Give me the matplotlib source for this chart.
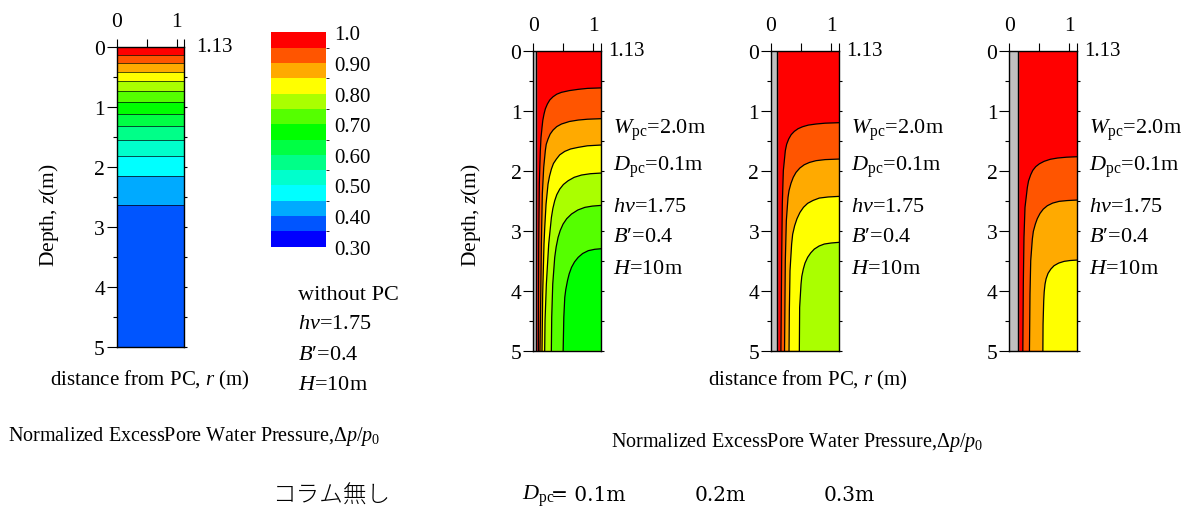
import numpy as np
import matplotlib
matplotlib.use("Agg")
import matplotlib.pyplot as plt
from matplotlib.colors import ListedColormap, BoundaryNorm
from matplotlib.cm import ScalarMappable

plt.rcParams['font.family'] = ['Liberation Serif', 'DejaVu Sans']
plt.rcParams['mathtext.fontset'] = 'custom'
plt.rcParams['mathtext.rm'] = 'Liberation Serif'
plt.rcParams['mathtext.it'] = 'Liberation Serif:italic'

# ---------------- data ----------------
R_MAX = 1.13
Z_MAX = 5.0
level_bounds = [0.30, 0.35, 0.40, 0.45, 0.50, 0.55, 0.60, 0.65, 0.70,
                0.75, 0.80, 0.85, 0.90, 0.95, 1.00]
level_colors = ['#0000FF', '#0055FF', '#00AAFF', '#00FFFF', '#00FFCC', '#00FF88',
                '#00FF44', '#00FF00', '#55FF00', '#AAFF00', '#FFFF00', '#FFAA00',
                '#FF5500', '#FF0000']
cbar_ticks = [0.30, 0.40, 0.50, 0.60, 0.70, 0.80, 0.90, 1.0]
cbar_labels = ['0.30', '0.40', '0.50', '0.60', '0.70', '0.80', '0.90', '1.0']

# case without PC: pressure profile with depth
prof_depth = [0.0, 0.138, 0.276, 0.426, 0.576, 0.742, 0.925, 1.114, 1.324,
              1.557, 1.823, 2.156, 2.638, 5.0]
prof_pressure = [1.0, 0.95, 0.90, 0.85, 0.80, 0.75, 0.70, 0.65, 0.60,
                 0.55, 0.50, 0.45, 0.40, 0.37]

# cases with PC: contour lines (r, z) of each level
pc_diameter = [0.1, 0.2, 0.3]
contour_levels = [[0.95, 0.90, 0.85, 0.80, 0.75, 0.70],
                  [0.95, 0.90, 0.85, 0.80],
                  [0.95, 0.90, 0.85]]
contour_r = [
    [[1.13, 0.90, 0.746, 0.60, 0.468, 0.390, 0.329, 0.275, 0.234, 0.200, 0.178, 0.158, 0.145, 0.128, 0.117, 0.100, 0.090, 0.084],
     [1.13, 0.90, 0.746, 0.60, 0.468, 0.390, 0.329, 0.280, 0.245, 0.215, 0.200, 0.173, 0.150, 0.134, 0.125, 0.111],
     [1.13, 0.90, 0.746, 0.62, 0.523, 0.440, 0.384, 0.335, 0.301, 0.270, 0.245, 0.212, 0.190, 0.178, 0.156, 0.145],
     [1.13, 0.95, 0.802, 0.68, 0.579, 0.500, 0.440, 0.390, 0.356, 0.325, 0.301, 0.256, 0.217, 0.195, 0.189],
     [1.13, 0.98, 0.857, 0.74, 0.635, 0.555, 0.495, 0.448, 0.412, 0.380, 0.356, 0.323, 0.306, 0.300],
     [1.13, 1.02, 0.913, 0.82, 0.746, 0.685, 0.635, 0.596, 0.568, 0.540, 0.523, 0.507, 0.496]],
    [[1.13, 0.90, 0.748, 0.62, 0.526, 0.450, 0.388, 0.335, 0.294, 0.260, 0.238, 0.205, 0.188, 0.177, 0.165],
     [1.13, 0.90, 0.748, 0.64, 0.554, 0.480, 0.416, 0.370, 0.332, 0.300, 0.283, 0.255, 0.238, 0.225],
     [1.13, 0.95, 0.803, 0.70, 0.609, 0.540, 0.482, 0.432, 0.393, 0.360, 0.343, 0.316, 0.305, 0.300],
     [1.13, 1.00, 0.886, 0.80, 0.720, 0.660, 0.609, 0.565, 0.537, 0.512, 0.499, 0.476, 0.471]],
    [[1.13, 0.95, 0.80, 0.68, 0.578, 0.500, 0.439, 0.390, 0.356, 0.320, 0.300, 0.261, 0.244, 0.233, 0.225],
     [1.13, 0.96, 0.828, 0.72, 0.633, 0.565, 0.511, 0.465, 0.433, 0.400, 0.383, 0.356, 0.344, 0.335],
     [1.13, 1.01, 0.911, 0.82, 0.744, 0.690, 0.644, 0.612, 0.594, 0.580, 0.572, 0.561, 0.558]],
]
contour_z = [
    [[0.62, 0.628, 0.644, 0.665, 0.694, 0.725, 0.767, 0.820, 0.889, 0.970, 1.056, 1.160, 1.278, 1.450, 1.667, 2.222, 3.222, 5.0],
     [1.133, 1.142, 1.156, 1.180, 1.222, 1.265, 1.322, 1.390, 1.472, 1.560, 1.667, 1.944, 2.389, 3.222, 4.0, 5.0],
     [1.572, 1.585, 1.611, 1.638, 1.678, 1.735, 1.806, 1.880, 1.972, 2.090, 2.222, 2.556, 2.950, 3.222, 4.056, 5.0],
     [2.039, 2.050, 2.072, 2.110, 2.167, 2.230, 2.306, 2.400, 2.500, 2.630, 2.778, 3.222, 3.889, 4.500, 5.0],
     [2.578, 2.590, 2.611, 2.655, 2.722, 2.800, 2.889, 2.995, 3.111, 3.270, 3.444, 3.889, 4.444, 5.0],
     [3.300, 3.310, 3.333, 3.380, 3.444, 3.520, 3.611, 3.720, 3.833, 3.980, 4.111, 4.444, 5.0]],
    [[1.200, 1.208, 1.222, 1.240, 1.267, 1.300, 1.344, 1.400, 1.472, 1.560, 1.667, 2.000, 2.556, 3.500, 5.0],
     [1.806, 1.815, 1.833, 1.862, 1.900, 1.955, 2.028, 2.110, 2.211, 2.330, 2.444, 2.833, 3.500, 5.0],
     [2.428, 2.438, 2.456, 2.495, 2.544, 2.610, 2.694, 2.800, 2.917, 3.060, 3.222, 3.667, 4.333, 5.0],
     [3.194, 3.205, 3.222, 3.255, 3.306, 3.370, 3.444, 3.540, 3.639, 3.760, 3.889, 4.278, 5.0]],
    [[1.767, 1.775, 1.789, 1.810, 1.844, 1.885, 1.933, 1.995, 2.067, 2.170, 2.278, 2.611, 3.111, 3.889, 5.0],
     [2.489, 2.498, 2.511, 2.540, 2.583, 2.640, 2.711, 2.800, 2.889, 3.010, 3.139, 3.500, 4.056, 5.0],
     [3.489, 3.497, 3.511, 3.540, 3.583, 3.640, 3.711, 3.800, 3.889, 4.020, 4.167, 4.556, 5.0]],
]

# ---------------- figure ----------------
W, H = 1192, 510
fig = plt.figure(figsize=(W / 100, H / 100), dpi=100)

cmap = ListedColormap(level_colors)
norm = BoundaryNorm(level_bounds, cmap.N)


def add_ax(x0, y0, x1, y1):
    return fig.add_axes([x0 / W, 1 - y1 / H, (x1 - x0) / W, (y1 - y0) / H])


def ftext(x, y, s, **kw):
    kw.setdefault('fontsize', 16)
    kw.setdefault('va', 'center')
    kw.setdefault('ha', 'left')
    fig.text(x / W, 1 - y / H, s, **kw)


def style_axes(ax, label_x):
    ax.set_xlim(0, R_MAX)
    ax.set_ylim(Z_MAX, 0)
    for sp in ax.spines.values():
        sp.set_linewidth(1.0)
        sp.set_zorder(10)
    ax.xaxis.tick_top()
    ax.set_xticks([0, 1])
    ax.set_xticks([0.5, R_MAX], minor=True)
    ax.set_xticklabels(['0', '1'])
    ax.tick_params(axis='x', which='both', direction='out', length=5.5,
                   width=0.8, labelsize=15.5, pad=6)
    ax.set_yticks(range(6))
    ax.set_yticks(np.arange(0.5, 5, 1.0), minor=True)
    ax.tick_params(axis='y', which='major', direction='out', length=7,
                   width=0.8, labelsize=15.5, pad=1.5)
    ax.tick_params(axis='y', which='minor', direction='out', length=3, width=0.8)
    sec = ax.secondary_yaxis('right')
    sec.set_yticks(np.arange(0.5, 5.01, 0.5))
    sec.set_yticklabels([])
    sec.tick_params(direction='out', length=2.5, width=0.8)
    sec.spines['right'].set_visible(False)
    ax.text(label_x, 1.0, '1.13', transform=ax.transAxes, fontsize=15,
            ha='left', va='center')


# ---- left panel: without PC ----
ax0 = add_ax(116.7, 47.7, 184.3, 348.3)
Zp = np.array([prof_pressure, prof_pressure]).T
ax0.contourf([0, R_MAX], prof_depth, Zp, levels=level_bounds, cmap=cmap, norm=norm)
ax0.hlines(prof_depth[1:-1], 0, R_MAX, colors='black', linewidth=0.6, alpha=0.8)
style_axes(ax0, 1.17)

# ---- colorbar ----
cax = add_ax(271, 33.3, 325.7, 247.7)
cb = fig.colorbar(ScalarMappable(norm=norm, cmap=cmap), cax=cax, ticks=cbar_ticks)
cb.set_ticklabels(cbar_labels)
cb.outline.set_visible(False)
cax.tick_params(length=0, labelsize=15, pad=6)

# ---- right panels: with PC ----
panel_x = [533.3, 771.0, 1009.3]
for i in range(3):
    ax = add_ax(panel_x[i], 51.7, panel_x[i] + 68, 351.7)
    ax.set_facecolor(level_colors[-1])
    for lev, rr, zz in zip(contour_levels[i], contour_r[i], contour_z[i]):
        idx = int(round((lev - 0.30) / 0.05)) - 1
        ax.fill(list(rr) + [R_MAX], list(zz) + [Z_MAX], color=level_colors[idx],
                linewidth=0)
        ax.plot(rr, zz, color='black', linewidth=0.9)
    ax.axvspan(0, pc_diameter[i] / 2, color='#C0C0C0', zorder=3)
    ax.axvline(pc_diameter[i] / 2, color='black', linewidth=1.0, zorder=4)
    style_axes(ax, 1.1)
    # annotation block
    ax_r = panel_x[i] + 80
    ftext(ax_r, 130, r'$W_{\mathrm{pc}}$=2.0m')
    ftext(ax_r, 167, r'$D_{\mathrm{pc}}$=0.1m')
    ftext(ax_r, 207, r'$hv$=1.75')
    ftext(ax_r, 237, r"$B$′=0.4")
    ftext(ax_r, 269, r'$H$=10m')

# ---- text ----
ftext(49, 215, 'Depth, $z$(m)', rotation=90, ha='center', fontsize=15.5)
ftext(471, 215, 'Depth, $z$(m)', rotation=90, ha='center', fontsize=15.5)
ftext(150, 380, 'distance from PC, $r$ (m)', ha='center', fontsize=15)
ftext(808, 380, 'distance from PC, $r$ (m)', ha='center', fontsize=15)

ftext(298, 296, 'without PC')
ftext(298, 325, r'$hv$=1.75')
ftext(298, 356, r"$B$′=0.4")
ftext(298, 386, r'$H$=10m')

ftext(8, 437, r'Normalized ExcessPore Water Pressure,$\mathit{Δp/p_{0}}$', fontsize=14.5)
ftext(611, 443, r'Normalized ExcessPore Water Pressure,$\mathit{Δp/p_{0}}$', fontsize=14.5)

ftext(272, 496, 'コラム無し', fontsize=17, family=['Noto Sans CJK JP'], fontweight='light')
ftext(522, 496, r'$D_{\mathrm{pc}}$', fontsize=16)
ftext(551, 496, '= 0.1m', fontsize=14.5, family=['DejaVu Serif'])
ftext(695, 496, '0.2m', fontsize=14.5, family=['DejaVu Serif'])
ftext(824, 496, '0.3m', fontsize=14.5, family=['DejaVu Serif'])

fig.savefig('out.png', dpi=100)
